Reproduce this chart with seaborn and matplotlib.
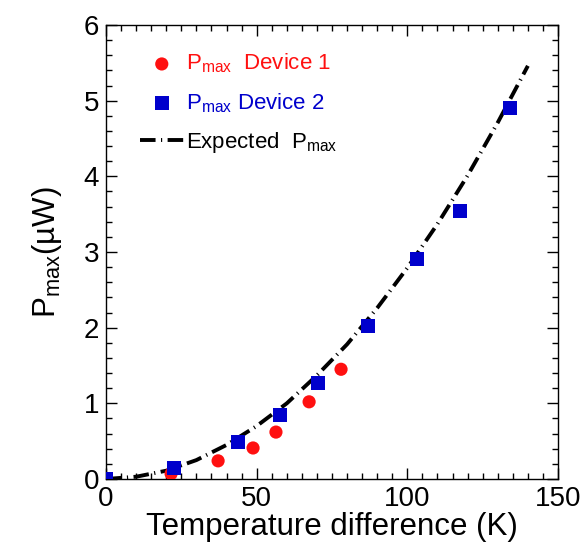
import matplotlib
matplotlib.use('Agg')
import matplotlib.pyplot as plt
import pandas as pd
import seaborn as sns
from matplotlib.ticker import MultipleLocator

# data
dev1_dt = [21.6, 37.2, 48.8, 56.4, 67.4, 78.0]
dev1_p = [0.07, 0.24, 0.41, 0.62, 1.02, 1.45]

dev2_dt = [0, 22.6, 43.8, 57.7, 70.4, 87.0, 103.2, 117.5, 134.0]
dev2_p = [0, 0.15, 0.49, 0.85, 1.27, 2.02, 2.91, 3.54, 4.90]

exp_dt = [0, 10, 20, 30, 40, 50, 60, 70, 80, 90, 100, 110, 120, 130, 140]
exp_p = [0, 0.03, 0.11, 0.25, 0.45, 0.70, 1.00, 1.37, 1.78, 2.26, 2.79, 3.37, 4.01, 4.71, 5.46]

df1 = pd.DataFrame({'dt': dev1_dt, 'p': dev1_p})
df2 = pd.DataFrame({'dt': dev2_dt, 'p': dev2_p})
dfe = pd.DataFrame({'dt': exp_dt, 'p': exp_p})

sns.set_style('ticks', {'axes.edgecolor': 'black', 'text.color': 'black',
                        'xtick.color': 'black', 'ytick.color': 'black',
                        'axes.labelcolor': 'black'})
plt.rcParams['font.family'] = ['Liberation Sans', 'DejaVu Sans']
plt.rcParams['mathtext.fontset'] = 'custom'
plt.rcParams['mathtext.rm'] = 'Liberation Sans'
plt.rcParams['mathtext.it'] = 'Liberation Sans'

fig = plt.figure(figsize=(5.84, 5.49), dpi=100)
ax = fig.add_axes([0.1815, 0.1275, 0.774, 0.827])

red = '#ff1010'
blue = '#0000cc'

sns.lineplot(data=dfe, x='dt', y='p', ax=ax, color='black', lw=2.8,
             linestyle=(0, (4.0, 1.4, 0.3, 1.4)), label=r'Expected  $\mathregular{P_{max}}$', zorder=2)
sns.scatterplot(data=df1, x='dt', y='p', ax=ax, color=red, marker='o', s=90,
                edgecolor='none', label=r'$\mathregular{P_{max}}$  Device 1', zorder=3)
sns.scatterplot(data=df2, x='dt', y='p', ax=ax, color=blue, marker='s', s=100,
                edgecolor='none', label=r'$\mathregular{P_{max}}$ Device 2', zorder=4)

ax.set_xlim(0, 150)
ax.set_ylim(0, 6)
ax.xaxis.set_major_locator(MultipleLocator(50))
ax.xaxis.set_minor_locator(MultipleLocator(5))
ax.yaxis.set_major_locator(MultipleLocator(1))
ax.yaxis.set_minor_locator(MultipleLocator(0.2))
ax.tick_params(which='both', direction='in', top=True, right=True, labelsize=20, width=1)
ax.tick_params(which='major', length=8, pad=5)
ax.tick_params(which='minor', length=4)
for s in ax.spines.values():
    s.set_linewidth(1)

ax.set_xlabel('Temperature difference (K)', fontsize=22.5, labelpad=0)
ax.set_ylabel(r'$\mathregular{P_{max}}$(µW)', fontsize=22.5, labelpad=14)

handles, labels = ax.get_legend_handles_labels()
order = [1, 2, 0]
leg = ax.legend([handles[i] for i in order], [labels[i] for i in order],
                loc='upper left', bbox_to_anchor=(0.03, 0.985), frameon=False,
                fontsize=16, handlelength=2.0, handletextpad=0.1, labelspacing=0.7,
                markerscale=1.0)
cols = [red, blue, 'black']
for t, c in zip(leg.get_texts(), cols):
    t.set_color(c)

fig.savefig('out.png', dpi=100)
